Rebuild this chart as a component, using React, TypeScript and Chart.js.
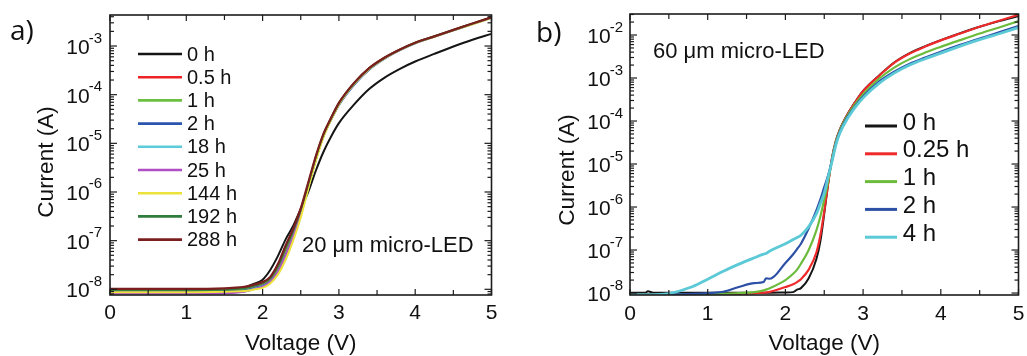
import React, { useEffect, useRef } from 'react';
import { Chart, registerables } from 'chart.js';

Chart.register(...registerables);

// ---------- Panel a: 20 um micro-LED ----------
const VOLTAGE_A = [0, 0.5, 1, 1.5, 1.7, 1.8, 1.9, 2.0, 2.1, 2.2, 2.3, 2.4, 2.5, 2.6, 2.7, 2.8, 2.9, 3.0, 3.2, 3.4, 3.6, 3.8, 4.0, 4.25, 4.5, 4.75, 5.0];
const A_0H = [9.5e-9, 9.5e-9, 9.5e-9, 9.8e-9, 1.05e-8, 1.15e-8, 1.32e-8, 1.58e-8, 2.5e-8, 4.8e-8, 1.05e-7, 2.0e-7, 4.5e-7, 1.02e-6, 2.8e-6, 6.8e-6, 1.4e-5, 2.6e-5, 6.3e-5, 1.32e-4, 2.25e-4, 3.4e-4, 4.8e-4, 6.9e-4, 9.8e-4, 1.35e-3, 1.78e-3];
const A_05H = [9.5e-9, 9.5e-9, 9.5e-9, 9.6e-9, 1.0e-8, 1.05e-8, 1.15e-8, 1.3e-8, 1.6e-8, 2.7e-8, 6.0e-8, 1.4e-7, 3.9e-7, 1.4e-6, 5.2e-6, 1.5e-5, 3.3e-5, 6.6e-5, 1.72e-4, 3.5e-4, 5.7e-4, 8.4e-4, 1.16e-3, 1.57e-3, 2.12e-3, 2.85e-3, 3.85e-3];
const A_1H = [9.1e-9, 9.1e-9, 9.1e-9, 9.2e-9, 9.6e-9, 1.0e-8, 1.1e-8, 1.22e-8, 1.5e-8, 2.5e-8, 5.5e-8, 1.3e-7, 3.7e-7, 1.35e-6, 5.0e-6, 1.48e-5, 3.25e-5, 6.5e-5, 1.7e-4, 3.45e-4, 5.7e-4, 8.4e-4, 1.16e-3, 1.57e-3, 2.12e-3, 2.85e-3, 3.85e-3];
const A_2H = [8.9e-9, 8.9e-9, 8.9e-9, 9.0e-9, 9.3e-9, 9.7e-9, 1.07e-8, 1.18e-8, 1.45e-8, 2.3e-8, 5.0e-8, 1.2e-7, 3.5e-7, 1.3e-6, 4.8e-6, 1.42e-5, 3.1e-5, 6.1e-5, 1.6e-4, 3.3e-4, 5.5e-4, 8.2e-4, 1.14e-3, 1.55e-3, 2.1e-3, 2.82e-3, 3.8e-3];
const A_18H = [8.3e-9, 8.3e-9, 8.3e-9, 8.4e-9, 8.8e-9, 9.3e-9, 1.03e-8, 1.14e-8, 1.4e-8, 2.2e-8, 4.7e-8, 1.15e-7, 3.4e-7, 1.28e-6, 4.8e-6, 1.42e-5, 3.15e-5, 6.3e-5, 1.66e-4, 3.4e-4, 5.6e-4, 8.3e-4, 1.15e-3, 1.56e-3, 2.1e-3, 2.83e-3, 3.82e-3];
const A_25H = [8.2e-9, 8.2e-9, 8.2e-9, 8.3e-9, 8.7e-9, 9.2e-9, 1.02e-8, 1.13e-8, 1.42e-8, 2.3e-8, 4.9e-8, 1.18e-7, 3.5e-7, 1.3e-6, 4.9e-6, 1.45e-5, 3.2e-5, 6.4e-5, 1.68e-4, 3.45e-4, 5.65e-4, 8.35e-4, 1.15e-3, 1.56e-3, 2.11e-3, 2.84e-3, 3.84e-3];
const A_144H = [8.7e-9, 8.7e-9, 8.7e-9, 8.9e-9, 9.1e-9, 9.3e-9, 1.0e-8, 1.07e-8, 1.32e-8, 2.0e-8, 4.0e-8, 1.0e-7, 3.0e-7, 1.2e-6, 4.5e-6, 1.38e-5, 3.1e-5, 6.3e-5, 1.66e-4, 3.4e-4, 5.6e-4, 8.3e-4, 1.15e-3, 1.55e-3, 2.1e-3, 2.8e-3, 3.8e-3];
const A_192H = [9.8e-9, 9.8e-9, 9.8e-9, 9.9e-9, 1.04e-8, 1.09e-8, 1.2e-8, 1.35e-8, 1.7e-8, 3.0e-8, 7.0e-8, 1.6e-7, 4.3e-7, 1.5e-6, 5.4e-6, 1.55e-5, 3.35e-5, 6.7e-5, 1.74e-4, 3.52e-4, 5.75e-4, 8.45e-4, 1.17e-3, 1.58e-3, 2.14e-3, 2.88e-3, 3.88e-3];
const A_288H = [1.02e-8, 1.02e-8, 1.02e-8, 1.05e-8, 1.1e-8, 1.15e-8, 1.26e-8, 1.41e-8, 1.8e-8, 3.3e-8, 7.9e-8, 1.75e-7, 4.6e-7, 1.6e-6, 5.6e-6, 1.6e-5, 3.4e-5, 6.8e-5, 1.75e-4, 3.55e-4, 5.8e-4, 8.5e-4, 1.17e-3, 1.58e-3, 2.15e-3, 2.9e-3, 3.9e-3];
const LABELS_A = ['0 h', '0.5 h', '1 h', '2 h', '18 h', '25 h', '144 h', '192 h', '288 h'];
const SERIES_A = [A_0H, A_05H, A_1H, A_2H, A_18H, A_25H, A_144H, A_192H, A_288H];
const COLORS_A = ['#151515', '#ec2327', '#6cc041', '#2b55ae', '#5ccbdc', '#b04fc4', '#ece23a', '#2f7d3c', '#7b1e1e'];
const Y_EXP_A = [-8, -7, -6, -5, -4, -3];
const NOTE_A = '20 \u03bcm micro-LED';

// ---------- Panel b: 60 um micro-LED ----------
const VOLTAGE_B = [0, 0.2, 0.23, 0.3, 0.5, 0.8, 1.0, 1.2, 1.4, 1.6, 1.72, 1.75, 1.8, 2.0, 2.1, 2.15, 2.2, 2.3, 2.4, 2.45, 2.5, 2.55, 2.6, 2.65, 2.7, 2.8, 2.9, 3.0, 3.2, 3.4, 3.6, 3.8, 4.0, 4.25, 4.5, 4.75, 5.0];
const B_0H = [1.02e-8, 1.02e-8, 1.1e-8, 1.02e-8, 1.02e-8, 1.02e-8, 1.02e-8, 1.02e-8, 1.02e-8, 1.02e-8, 1.02e-8, 1.02e-8, 1.02e-8, 1.03e-8, 1.05e-8, 1.2e-8, 1.3e-8, 2.2e-8, 6.3e-8, 1.6e-7, 7.0e-7, 3.5e-6, 1.4e-5, 3.5e-5, 6.3e-5, 1.45e-4, 2.8e-4, 5.0e-4, 1.12e-3, 2.3e-3, 3.8e-3, 5.5e-3, 7.6e-3, 1.1e-2, 1.55e-2, 2.1e-2, 2.75e-2];
const B_025H = [9.3e-9, 9.3e-9, 9.3e-9, 9.3e-9, 9.3e-9, 9.3e-9, 9.3e-9, 9.4e-9, 9.6e-9, 9.9e-9, 1.02e-8, 1.03e-8, 1.06e-8, 1.38e-8, 1.6e-8, 1.8e-8, 2.1e-8, 3.5e-8, 8.9e-8, 2.2e-7, 8.0e-7, 3.5e-6, 1.35e-5, 3.4e-5, 6.2e-5, 1.42e-4, 2.75e-4, 4.9e-4, 1.1e-3, 2.25e-3, 3.7e-3, 5.4e-3, 7.5e-3, 1.08e-2, 1.55e-2, 2.15e-2, 2.95e-2];
const B_1H = [9.3e-9, 9.3e-9, 9.3e-9, 9.3e-9, 9.3e-9, 9.4e-9, 9.5e-9, 9.7e-9, 1.0e-8, 1.05e-8, 1.15e-8, 1.2e-8, 1.3e-8, 2.0e-8, 2.8e-8, 3.5e-8, 4.8e-8, 1.0e-7, 2.9e-7, 6.0e-7, 1.5e-6, 4.0e-6, 1.3e-5, 3.3e-5, 6.0e-5, 1.35e-4, 2.5e-4, 4.2e-4, 9.5e-4, 1.75e-3, 2.75e-3, 3.9e-3, 5.3e-3, 7.6e-3, 1.08e-2, 1.5e-2, 2.1e-2];
const B_2H = [9.2e-9, 9.2e-9, 9.2e-9, 9.2e-9, 9.3e-9, 9.6e-9, 1.0e-8, 1.07e-8, 1.38e-8, 1.7e-8, 1.8e-8, 2.2e-8, 2.15e-8, 5.0e-8, 8.0e-8, 1.05e-7, 1.4e-7, 3.2e-7, 8.5e-7, 1.5e-6, 2.9e-6, 5.5e-6, 1.2e-5, 3.0e-5, 5.6e-5, 1.25e-4, 2.25e-4, 3.7e-4, 8.1e-4, 1.4e-3, 2.15e-3, 3.0e-3, 4.1e-3, 5.9e-3, 8.3e-3, 1.15e-2, 1.62e-2];
const B_4H = [9.0e-9, 9.0e-9, 9.0e-9, 9.1e-9, 9.7e-9, 1.4e-8, 2.1e-8, 3.2e-8, 4.7e-8, 6.6e-8, 8.0e-8, 8.3e-8, 9.5e-8, 1.4e-7, 1.75e-7, 1.95e-7, 2.2e-7, 3.5e-7, 7.0e-7, 1.2e-6, 2.1e-6, 5.0e-6, 1.15e-5, 2.8e-5, 5.2e-5, 1.15e-4, 2.1e-4, 3.45e-4, 7.4e-4, 1.3e-3, 2.0e-3, 2.8e-3, 3.8e-3, 5.5e-3, 7.8e-3, 1.07e-2, 1.48e-2];
const LABELS_B = ['0 h', '0.25 h', '1 h', '2 h', '4 h'];
const SERIES_B = [B_0H, B_025H, B_1H, B_2H, B_4H];
const COLORS_B = ['#151515', '#ee2a2a', '#6cbb3c', '#2c50a6', '#5cc9d6'];
const Y_EXP_B = [-8, -7, -6, -5, -4, -3, -2];
const NOTE_B = '60 \u03bcm micro-LED';

const X_TICKS = [0, 1, 2, 3, 4, 5];
const X_TITLE = 'Voltage (V)';
const Y_TITLE = 'Current (A)';

const FONT = '"Liberation Sans", Arial, Helvetica, sans-serif';
const TEXT = '#111111';

type PanelCfg = {
  left: number; width: number; height: number;
  pad: { left: number; right: number; top: number; bottom: number };
  yMin: number; yMax: number; yExps: number[];
  voltages: number[]; series: number[][]; labels: string[]; colors: string[]; lineWidths: number[];
  letter: string; letterX: number; letterY: number;
  yTitleX: number; yTitleY: number; xTitleY: number; xTickY: number; yLabelGap: number;
  legX1: number; legX2: number; legTextX: number; legY0: number; legDy: number; legFont: number; legLW: number; legTextDy: number;
  note: string; noteX: number; noteY: number;
};

function decorPlugin(cfg: PanelCfg) {
  return {
    id: 'decor',
    afterDatasetsDraw(chart: any) {
      const { ctx, chartArea: a, scales } = chart;
      const xs = scales.x;
      const ys = scales.y;
      ctx.save();
      ctx.strokeStyle = '#1c1c1c';
      ctx.lineWidth = 1.2;
      const seg = (x1: number, y1: number, x2: number, y2: number) => {
        ctx.beginPath(); ctx.moveTo(x1, y1); ctx.lineTo(x2, y2); ctx.stroke();
      };
      for (let i = 0; i < X_TICKS.length; i++) {
        const v = X_TICKS[i];
        const px = xs.getPixelForValue(v);
        seg(px, a.bottom, px, a.bottom - 6);
        seg(px, a.top, px, a.top + 6);
        if (i < X_TICKS.length - 1) {
          const pm = xs.getPixelForValue((v + X_TICKS[i + 1]) / 2);
          seg(pm, a.bottom, pm, a.bottom - 5);
          seg(pm, a.top, pm, a.top + 5);
        }
      }
      const e0 = Math.floor(Math.log10(cfg.yMin));
      const e1 = Math.ceil(Math.log10(cfg.yMax));
      for (let e = e0; e <= e1; e++) {
        for (let m = 1; m <= 9; m++) {
          const val = m * Math.pow(10, e);
          if (val < cfg.yMin || val > cfg.yMax) continue;
          const py = ys.getPixelForValue(val);
          const len = m === 1 ? 7 : 4;
          seg(a.left, py, a.left + len, py);
          seg(a.right, py, a.right - len, py);
        }
      }
      ctx.lineWidth = 1.6;
      ctx.strokeRect(a.left, a.top, a.right - a.left, a.bottom - a.top);

      ctx.fillStyle = TEXT;
      ctx.font = `21px ${FONT}`;
      ctx.textAlign = 'center';
      ctx.textBaseline = 'alphabetic';
      X_TICKS.forEach((v) => ctx.fillText(String(v), xs.getPixelForValue(v), cfg.xTickY));
      const rightX = a.left - cfg.yLabelGap;
      cfg.yExps.forEach((e) => {
        const py = ys.getPixelForValue(Math.pow(10, e));
        const sup = String(e);
        ctx.textAlign = 'left';
        ctx.font = `15px ${FONT}`;
        const ws = ctx.measureText(sup).width;
        ctx.fillText(sup, rightX - ws, py - 3.5);
        ctx.font = `21px ${FONT}`;
        const wm = ctx.measureText('10').width;
        ctx.fillText('10', rightX - ws - wm + 1, py + 8);
      });
      ctx.font = `22.5px ${FONT}`;
      ctx.textAlign = 'center';
      ctx.fillText(X_TITLE, (a.left + a.right) / 2, cfg.xTitleY);
      ctx.save();
      ctx.translate(cfg.yTitleX, cfg.yTitleY);
      ctx.rotate(-Math.PI / 2);
      ctx.fillText(Y_TITLE, 0, 0);
      ctx.restore();
      ctx.font = `${cfg.legFont}px ${FONT}`;
      ctx.textAlign = 'left';
      ctx.textBaseline = 'middle';
      cfg.labels.forEach((lab, i) => {
        const ly = cfg.legY0 + i * cfg.legDy;
        ctx.strokeStyle = cfg.colors[i];
        ctx.lineWidth = cfg.legLW;
        seg(cfg.legX1, ly, cfg.legX2, ly);
        ctx.fillStyle = TEXT;
        ctx.fillText(lab, cfg.legTextX, ly + cfg.legTextDy);
      });
      ctx.textBaseline = 'alphabetic';
      ctx.font = `22px ${FONT}`;
      ctx.fillText(cfg.note, cfg.noteX, cfg.noteY);
      ctx.font = `28px "Open Sans", "Noto Sans", sans-serif`;
      ctx.fillText(cfg.letter, cfg.letterX, cfg.letterY);
      ctx.restore();
    },
  };
}

function Panel({ cfg }: { cfg: PanelCfg }) {
  const ref = useRef<HTMLCanvasElement>(null);
  useEffect(() => {
    const n = cfg.series.length;
    const datasets = cfg.series.map((s, i) => ({
      label: cfg.labels[i],
      data: cfg.voltages.map((v, j) => ({ x: v, y: s[j] })),
      borderColor: cfg.colors[i],
      backgroundColor: cfg.colors[i],
      borderWidth: cfg.lineWidths[i],
      pointRadius: 0,
      fill: false,
      cubicInterpolationMode: 'monotone' as const,
      order: n - i,
    }));
    const chart = new Chart(ref.current as HTMLCanvasElement, {
      type: 'line',
      data: { datasets },
      options: {
        animation: false,
        responsive: false,
        devicePixelRatio: 1,
        events: [],
        layout: { padding: cfg.pad },
        scales: {
          x: { type: 'linear', min: 0, max: 5, display: false },
          y: { type: 'logarithmic', min: cfg.yMin, max: cfg.yMax, display: false },
        },
        plugins: { legend: { display: false }, tooltip: { enabled: false } },
      },
      plugins: [decorPlugin(cfg)],
    } as any);
    return () => chart.destroy();
  }, [cfg]);
  return (
    <canvas
      ref={ref}
      width={cfg.width}
      height={cfg.height}
      style={{ position: 'absolute', left: cfg.left, top: 0, width: cfg.width, height: cfg.height }}
    />
  );
}

const CFG_A: PanelCfg = {
  left: 0, width: 515, height: 356,
  pad: { left: 110, right: 23.5, top: 15, bottom: 61 },
  yMin: 7.64e-9, yMax: 4.34e-3, yExps: Y_EXP_A,
  voltages: VOLTAGE_A, series: SERIES_A, labels: LABELS_A, colors: COLORS_A,
  lineWidths: [2, 2, 2, 2, 2, 2, 2, 2, 2.2],
  letter: 'a)', letterX: 10, letterY: 40,
  yTitleX: 53, yTitleY: 162, xTitleY: 350, xTickY: 319, yLabelGap: 8,
  legX1: 138, legX2: 182, legTextX: 187, legY0: 54, legDy: 23.2, legFont: 20, legLW: 2.6, legTextDy: 1,
  note: NOTE_A, noteX: 302, noteY: 252,
};

const CFG_B: PanelCfg = {
  left: 515, width: 512, height: 356,
  pad: { left: 115, right: 8.5, top: 14, bottom: 61 },
  yMin: 9.12e-9, yMax: 3.08e-2, yExps: Y_EXP_B,
  voltages: VOLTAGE_B, series: SERIES_B, labels: LABELS_B, colors: COLORS_B,
  lineWidths: [2, 2.2, 2.2, 2.2, 2.8],
  letter: 'b)', letterX: 21, letterY: 42,
  yTitleX: 58.5, yTitleY: 170, xTitleY: 350, xTickY: 320, yLabelGap: 7,
  legX1: 350, legX2: 382, legTextX: 387.7, legY0: 126, legDy: 27.8, legFont: 24, legLW: 3, legTextDy: -3,
  note: NOTE_B, noteX: 138, noteY: 58,
};

export default function App() {
  return (
    <div style={{ position: 'fixed', left: 0, top: 0, width: 1027, height: 356, background: '#fff', overflow: 'hidden' }}>
      <Panel cfg={CFG_A} />
      <Panel cfg={CFG_B} />
    </div>
  );
}
